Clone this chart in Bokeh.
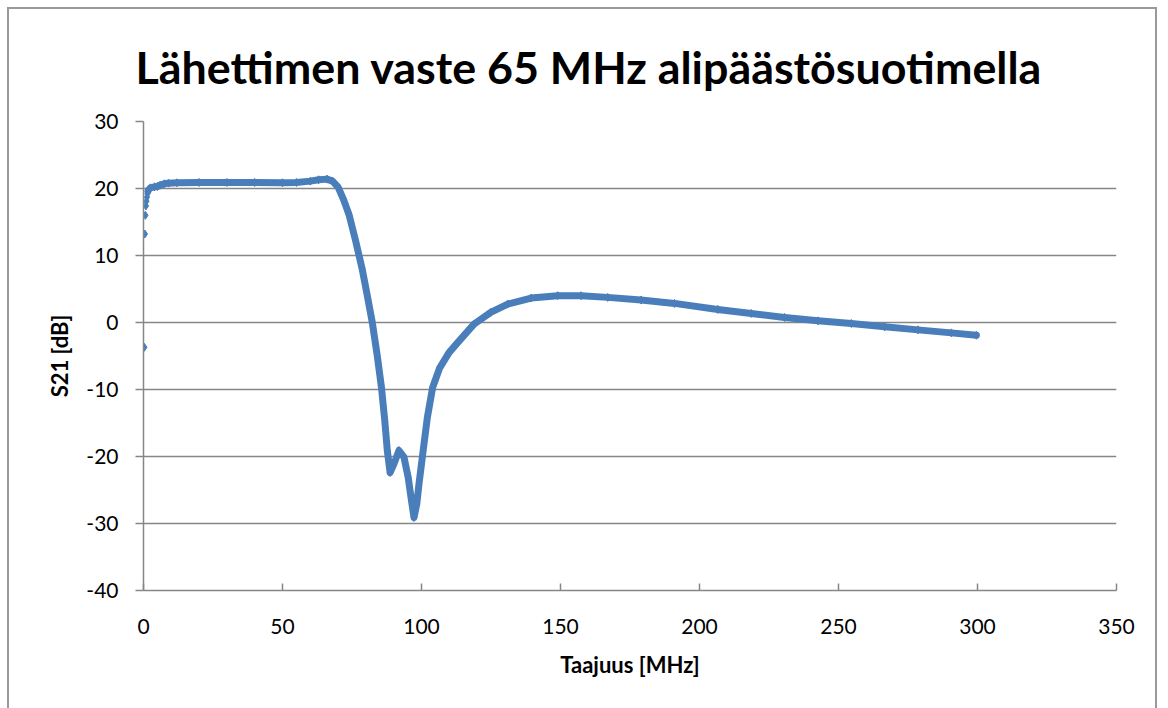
from bokeh.plotting import figure
from bokeh.models import Range1d, FixedTicker
from bokeh.embed import file_html
from bokeh.resources import INLINE

freq_mhz = [0.3, 0.49, 0.67, 0.86, 1.05, 1.24, 1.42, 1.61, 1.8,
            2.5, 4.0, 5.0, 6.0, 7.5, 9.0, 12.0,
            20.0, 30.0, 40.0, 50.0, 55.0, 60.0, 63.0, 66.0, 68.0,
            70.0, 72.0, 74.0, 76.3, 78.7, 80.5, 82.3,
            84.1, 85.6, 86.8, 87.7, 88.7,
            90.1, 91.9, 93.7, 95.2, 96.4, 97.3, 98.3, 99.1, 100.3,
            102.1, 104.0, 106.5, 109.9, 113.0, 118.9,
            124.9, 131.0, 139.4, 149.0, 157.4, 167.0, 179.0, 191.0,
            206.6, 218.6, 230.6, 242.6, 254.6, 266.6, 278.6, 290.6, 299.6]

s21_db = [-3.7, 13.2, 16.0, 17.4, 18.1, 18.7, 19.2, 19.6, 19.8,
          20.1, 20.25, 20.3, 20.5, 20.7, 20.8, 20.85,
          20.9, 20.9, 20.9, 20.85, 20.9, 21.1, 21.3, 21.4, 21.1,
          20.2, 18.3, 16.0, 12.2, 7.9, 4.0, 0.0,
          -5.0, -9.7, -14.7, -19.1, -22.4,
          -21.1, -19.1, -20.1, -23.1, -26.6, -29.1, -27.1, -24.1, -20.1,
          -14.2, -9.7, -6.8, -4.5, -3.0, -0.25,
          1.5, 2.75, 3.65, 4.0, 4.0, 3.75, 3.35, 2.85,
          1.95, 1.35, 0.75, 0.25, -0.15, -0.65, -1.1, -1.55, -1.9]

x_ticks = [0, 50, 100, 150, 200, 250, 300, 350]
y_ticks = [-40, -30, -20, -10, 0, 10, 20, 30]
y_tick_labels = ["-40", "-30", "-20", "-10", "0", "10", "20", "30"]

title_text = "Lähettimen vaste 65 MHz alipäästösuotimella"
x_title = "Taajuus [MHz]"
y_title = "S21 [dB]"

BLUE = "#4A7EBB"
GRAY = "#868686"
FONT = "Lato"

p = figure(width=1150, height=706, output_backend="svg", toolbar_location=None,
           x_range=Range1d(0, 350), y_range=Range1d(-40, 30),
           min_border_left=134, min_border_right=43, min_border_top=112,
           min_border_bottom=125, title=title_text)
p.margin = (7, 0, 0, 7)
p.styles = {"border": "2px solid #9a9a9a"}
p.outline_line_color = None
p.background_fill_color = "white"
p.border_fill_color = "white"

p.title.text_font = FONT
p.title.text_font_size = "44.8px"
p.title.text_font_style = "bold"
p.title.text_color = "black"
p.title.align = "left"
p.title.offset = -8
p.title.standoff = 55

p.xgrid.visible = False
p.ygrid.grid_line_color = GRAY
p.ygrid.grid_line_width = 1.5
p.ygrid.ticker = FixedTicker(ticks=y_ticks)

p.xaxis.ticker = FixedTicker(ticks=x_ticks)
p.yaxis.ticker = FixedTicker(ticks=y_ticks)
p.yaxis.major_label_overrides = dict(zip(y_ticks, y_tick_labels))
for ax in (p.xaxis, p.yaxis):
    ax.axis_line_color = GRAY
    ax.axis_line_width = 1.5
    ax.major_tick_line_color = GRAY
    ax.major_tick_line_width = 1.5
    ax.minor_tick_line_color = None
    ax.major_label_text_font = FONT
    ax.major_label_text_font_size = "21px"
    ax.major_label_text_color = "black"
    ax.axis_label_text_font = FONT
    ax.axis_label_text_font_size = "22px"
    ax.axis_label_text_font_style = "bold"
    ax.axis_label_text_color = "black"

p.xaxis.major_tick_in = 7
p.xaxis.major_tick_out = 0
p.xaxis.major_label_standoff = 28
p.xaxis.axis_label = x_title
p.xaxis.axis_label_standoff = 14

p.yaxis.major_tick_in = 0
p.yaxis.major_tick_out = 8
p.yaxis.major_label_standoff = 17
p.yaxis.axis_label = y_title
p.yaxis.axis_label_standoff = 10

p.line(freq_mhz[7:], s21_db[7:], line_color=BLUE, line_width=7,
       line_join="round", line_cap="round")
p.scatter(freq_mhz, s21_db, marker="diamond", size=8, fill_color=BLUE,
          line_color=BLUE)

open("out.html", "w").write(file_html(p, INLINE))
